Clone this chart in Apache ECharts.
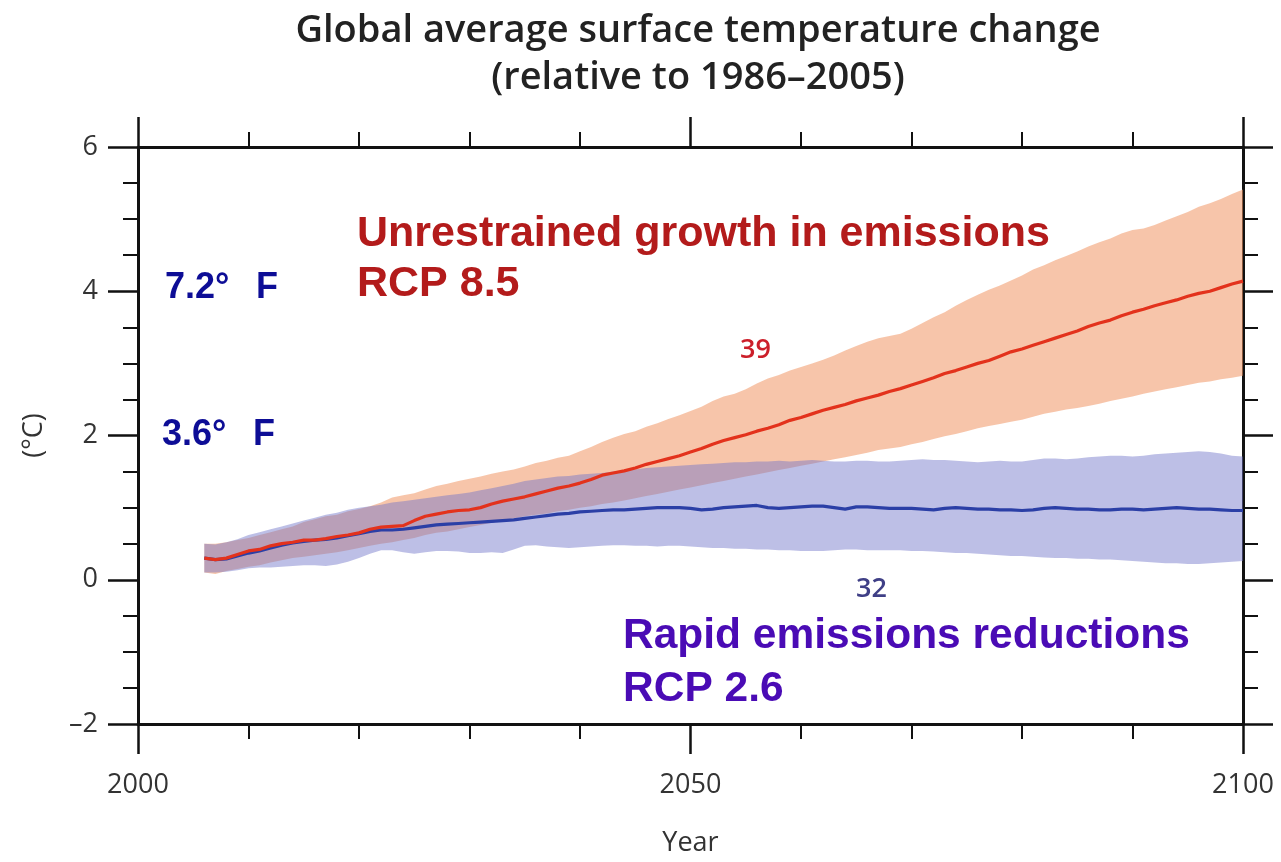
<!DOCTYPE html>
<html>
<head>
<meta charset="utf-8">
<script src="https://cdn.jsdelivr.net/npm/echarts@6/dist/echarts.min.js"></script>
<style>
  html, body { margin: 0; padding: 0; background: #fff; }
  #chart { width: 1281px; height: 862px; }
</style>
</head>
<body>
<div id="chart"></div>
<script>
// Projection years (annual, 2006–2100)
const years = [];
for (let y = 2006; y <= 2100; y++) years.push(y);

// RCP 8.5 multi-model mean and spread (°C relative to 1986–2005)
const rcp85Mean = [
  0.30, 0.28, 0.30, 0.35, 0.40, 0.42, 0.47, 0.50, 0.52, 0.55,
  0.55, 0.57, 0.60, 0.62, 0.65, 0.70, 0.73, 0.74, 0.75, 0.82,
  0.88, 0.91, 0.94, 0.96, 0.97, 1.00, 1.05, 1.09, 1.12, 1.15,
  1.19, 1.23, 1.27, 1.30, 1.34, 1.39, 1.45, 1.48, 1.51, 1.55,
  1.60, 1.64, 1.68, 1.72, 1.77, 1.82, 1.88, 1.93, 1.97, 2.01,
  2.06, 2.10, 2.15, 2.21, 2.25, 2.30, 2.35, 2.39, 2.43, 2.48,
  2.52, 2.56, 2.61, 2.65, 2.70, 2.75, 2.80, 2.86, 2.90, 2.95,
  3.00, 3.04, 3.10, 3.16, 3.20, 3.25, 3.30, 3.35, 3.40, 3.45,
  3.51, 3.56, 3.60, 3.66, 3.71, 3.75, 3.80, 3.84, 3.88, 3.93,
  3.97, 4.00, 4.05, 4.10, 4.14
];
const rcp85High = [
  0.50, 0.50, 0.52, 0.55, 0.58, 0.62, 0.66, 0.70, 0.74, 0.80,
  0.84, 0.88, 0.90, 0.95, 0.98, 1.02, 1.07, 1.14, 1.17, 1.20,
  1.25, 1.30, 1.33, 1.37, 1.40, 1.43, 1.47, 1.50, 1.53, 1.57,
  1.62, 1.65, 1.69, 1.72, 1.78, 1.84, 1.91, 1.97, 2.02, 2.06,
  2.12, 2.17, 2.23, 2.28, 2.34, 2.40, 2.48, 2.54, 2.58, 2.64,
  2.72, 2.79, 2.84, 2.90, 2.95, 3.00, 3.05, 3.11, 3.18, 3.24,
  3.30, 3.35, 3.38, 3.41, 3.48, 3.56, 3.64, 3.71, 3.80, 3.88,
  3.95, 4.02, 4.08, 4.15, 4.22, 4.30, 4.36, 4.43, 4.49, 4.55,
  4.62, 4.68, 4.73, 4.80, 4.85, 4.87, 4.92, 4.98, 5.04, 5.10,
  5.17, 5.22, 5.28, 5.35, 5.41
];
const rcp85Low = [
  0.10, 0.08, 0.12, 0.15, 0.18, 0.20, 0.24, 0.27, 0.30, 0.32,
  0.34, 0.36, 0.38, 0.41, 0.44, 0.47, 0.50, 0.52, 0.55, 0.58,
  0.62, 0.65, 0.67, 0.70, 0.73, 0.76, 0.79, 0.82, 0.85, 0.88,
  0.90, 0.92, 0.95, 0.97, 1.00, 1.02, 1.05, 1.07, 1.10, 1.13,
  1.16, 1.19, 1.22, 1.25, 1.28, 1.31, 1.34, 1.37, 1.40, 1.43,
  1.46, 1.49, 1.52, 1.55, 1.58, 1.61, 1.64, 1.67, 1.70, 1.73,
  1.76, 1.80, 1.82, 1.84, 1.88, 1.91, 1.95, 1.99, 2.02, 2.06,
  2.10, 2.13, 2.16, 2.19, 2.22, 2.26, 2.30, 2.33, 2.36, 2.38,
  2.41, 2.44, 2.48, 2.51, 2.54, 2.58, 2.61, 2.64, 2.67, 2.70,
  2.73, 2.75, 2.78, 2.80, 2.83
];

// RCP 2.6 multi-model mean and spread
const rcp26Mean = [
  0.30, 0.28, 0.29, 0.33, 0.37, 0.40, 0.44, 0.48, 0.51, 0.53,
  0.55, 0.56, 0.58, 0.61, 0.64, 0.67, 0.69, 0.69, 0.70, 0.72,
  0.74, 0.76, 0.77, 0.78, 0.79, 0.80, 0.81, 0.82, 0.83, 0.85,
  0.87, 0.89, 0.91, 0.92, 0.94, 0.95, 0.96, 0.97, 0.97, 0.98,
  0.99, 1.00, 1.00, 1.00, 0.99, 0.97, 0.98, 1.00, 1.01, 1.02,
  1.03, 1.00, 0.99, 1.00, 1.01, 1.02, 1.02, 1.00, 0.98, 1.01,
  1.01, 1.00, 0.99, 0.99, 0.99, 0.98, 0.97, 0.99, 1.00, 0.99,
  0.98, 0.98, 0.97, 0.97, 0.96, 0.97, 0.99, 1.00, 0.99, 0.98,
  0.98, 0.97, 0.97, 0.98, 0.98, 0.97, 0.98, 0.99, 1.00, 0.99,
  0.98, 0.98, 0.97, 0.96, 0.96
];
const rcp26High = [
  0.50, 0.49, 0.52, 0.56, 0.62, 0.66, 0.70, 0.74, 0.78, 0.82,
  0.86, 0.90, 0.93, 0.97, 1.00, 1.02, 1.04, 1.07, 1.09, 1.11,
  1.13, 1.15, 1.17, 1.19, 1.21, 1.24, 1.27, 1.30, 1.33, 1.37,
  1.39, 1.41, 1.43, 1.44, 1.46, 1.47, 1.48, 1.50, 1.51, 1.53,
  1.55, 1.56, 1.57, 1.58, 1.59, 1.60, 1.61, 1.62, 1.63, 1.63,
  1.64, 1.64, 1.65, 1.64, 1.65, 1.66, 1.65, 1.64, 1.64, 1.65,
  1.65, 1.64, 1.64, 1.65, 1.66, 1.67, 1.66, 1.66, 1.65, 1.64,
  1.63, 1.64, 1.65, 1.64, 1.64, 1.66, 1.68, 1.68, 1.67, 1.68,
  1.70, 1.71, 1.72, 1.72, 1.71, 1.72, 1.74, 1.75, 1.76, 1.77,
  1.78, 1.77, 1.75, 1.72, 1.71
];
const rcp26Low = [
  0.10, 0.10, 0.11, 0.13, 0.16, 0.17, 0.17, 0.18, 0.19, 0.20,
  0.20, 0.19, 0.21, 0.25, 0.30, 0.36, 0.41, 0.41, 0.38, 0.36,
  0.38, 0.40, 0.40, 0.39, 0.37, 0.37, 0.38, 0.37, 0.42, 0.47,
  0.48, 0.46, 0.45, 0.44, 0.45, 0.46, 0.47, 0.48, 0.48, 0.47,
  0.47, 0.46, 0.47, 0.47, 0.46, 0.45, 0.44, 0.44, 0.43, 0.43,
  0.42, 0.42, 0.41, 0.41, 0.40, 0.40, 0.40, 0.41, 0.42, 0.42,
  0.41, 0.41, 0.41, 0.41, 0.40, 0.40, 0.39, 0.38, 0.37, 0.37,
  0.36, 0.35, 0.34, 0.33, 0.33, 0.32, 0.31, 0.30, 0.30, 0.29,
  0.29, 0.28, 0.28, 0.27, 0.26, 0.25, 0.24, 0.23, 0.23, 0.22,
  0.22, 0.23, 0.24, 0.25, 0.26
];

// Axis ranges and tick steps
const xRange = [2000, 2100];
const xMajorStep = 50;
const yRange = [-2, 6];
const yMajorStep = 2;

const chart = echarts.init(document.getElementById('chart'), null, { renderer: 'canvas' });

const INK = '#111';
const LABEL = '#333';
const LABEL_FONT = '"Open Sans", "Noto Sans", sans-serif';
const ANNOT_FONT = '"Liberation Sans", Arial, sans-serif';

// Shaded model spread drawn as one polygon: upper edge forward, lower edge back
function bandSeries(name, lo, hi, color, z) {
  return {
    type: 'custom',
    name: name,
    z: z,
    silent: true,
    clip: true,
    data: years.map((y, i) => [y, lo[i], hi[i]]),
    encode: { x: 0, y: [1, 2] },
    renderItem: function (params, api) {
      if (params.dataIndexInside !== 0) return null;
      const top = years.map((y, i) => api.coord([y, hi[i]]));
      const bottom = years.map((y, i) => api.coord([y, lo[i]])).reverse();
      return {
        type: 'polygon',
        shape: { points: top.concat(bottom) },
        style: { fill: color, stroke: null }
      };
    }
  };
}

function lineSeries(name, values, color, z) {
  return {
    type: 'line',
    name: name,
    z: z,
    silent: true,
    showSymbol: false,
    smooth: false,
    data: years.map((y, i) => [y, values[i]]),
    lineStyle: { color: color, width: 3.2 }
  };
}

const frameAxisLine = { show: true, onZero: false, lineStyle: { color: INK, width: 3 } };
const majorTick = { show: true, inside: false, length: 30, lineStyle: { color: INK, width: 2.5 } };
const minorTick = (n) => ({ show: true, splitNumber: n, length: 15, lineStyle: { color: INK, width: 2 } });

function annot(text, left, top, font, fill) {
  return { type: 'text', left: left, top: top, z: 10, silent: true,
           style: { text: text, font: font, fill: fill } };
}

const option = {
  backgroundColor: '#ffffff',
  animation: false,
  title: {
    text: 'Global average surface temperature change\n(relative to 1986–2005)',
    left: 693,
    top: 3,
    textAlign: 'center',
    textStyle: {
      fontFamily: LABEL_FONT,
      fontWeight: 600,
      fontSize: 38,
      lineHeight: 47,
      color: '#222'
    }
  },
  grid: { left: 138, right: 38, top: 147, bottom: 135, containLabel: false },
  xAxis: [
    {
      type: 'value', position: 'bottom',
      min: xRange[0], max: xRange[1], interval: xMajorStep,
      name: 'Year', nameLocation: 'middle', nameGap: 106,
      nameTextStyle: { fontFamily: LABEL_FONT, fontSize: 27, color: LABEL },
      axisLine: frameAxisLine, axisTick: majorTick, minorTick: minorTick(5),
      splitLine: { show: false }, minorSplitLine: { show: false },
      axisLabel: { margin: 48, fontFamily: LABEL_FONT, fontSize: 27, color: LABEL,
                   formatter: (v) => String(v) }
    },
    {
      type: 'value', position: 'top',
      min: xRange[0], max: xRange[1], interval: xMajorStep,
      axisLine: frameAxisLine, axisTick: majorTick, minorTick: minorTick(5),
      splitLine: { show: false }, axisLabel: { show: false }
    }
  ],
  yAxis: [
    {
      type: 'value', position: 'left',
      min: yRange[0], max: yRange[1], interval: yMajorStep,
      name: '(°C)', nameLocation: 'middle', nameGap: 90, nameRotate: 90,
      nameTextStyle: { fontFamily: LABEL_FONT, fontSize: 27, color: LABEL },
      axisLine: frameAxisLine, axisTick: majorTick, minorTick: minorTick(4),
      splitLine: { show: false }, minorSplitLine: { show: false },
      axisLabel: { margin: 40, fontFamily: LABEL_FONT, fontSize: 27, color: LABEL,
                   formatter: (v) => (v < 0 ? '–' + Math.abs(v) : String(v)) }
    },
    {
      type: 'value', position: 'right',
      min: yRange[0], max: yRange[1], interval: yMajorStep,
      axisLine: frameAxisLine, axisTick: majorTick, minorTick: minorTick(4),
      splitLine: { show: false }, axisLabel: { show: false }
    }
  ],
  series: [
    bandSeries('RCP 8.5 range', rcp85Low, rcp85High, 'rgba(240,150,100,0.55)', 1),
    bandSeries('RCP 2.6 range', rcp26Low, rcp26High, 'rgba(112,116,200,0.46)', 2),
    lineSeries('RCP 2.6 mean', rcp26Mean, '#2b3fa6', 3),
    lineSeries('RCP 8.5 mean', rcp85Mean, '#e3321c', 4)
  ],
  graphic: [
    annot('Unrestrained growth in emissions', 357, 213, 'bold 43px ' + ANNOT_FONT, '#b31b1b'),
    annot('RCP 8.5', 357, 263, 'bold 43px ' + ANNOT_FONT, '#b31b1b'),
    annot('7.2°', 165, 270, 'bold 36px ' + ANNOT_FONT, '#0d0d96'),
    annot('F', 256, 270, 'bold 36px ' + ANNOT_FONT, '#0d0d96'),
    annot('3.6°', 162, 417, 'bold 36px ' + ANNOT_FONT, '#0d0d96'),
    annot('F', 253, 417, 'bold 36px ' + ANNOT_FONT, '#0d0d96'),
    annot('39', 740, 337, '600 27px ' + LABEL_FONT, '#cc1f2a'),
    annot('32', 856, 576, '600 27px ' + LABEL_FONT, '#3f3f86'),
    annot('Rapid emissions reductions', 623, 615, 'bold 42.5px ' + ANNOT_FONT, '#4a0bb5'),
    annot('RCP 2.6', 623, 668, 'bold 42.5px ' + ANNOT_FONT, '#4a0bb5')
  ]
};

chart.setOption(option);
</script>
</body>
</html>
